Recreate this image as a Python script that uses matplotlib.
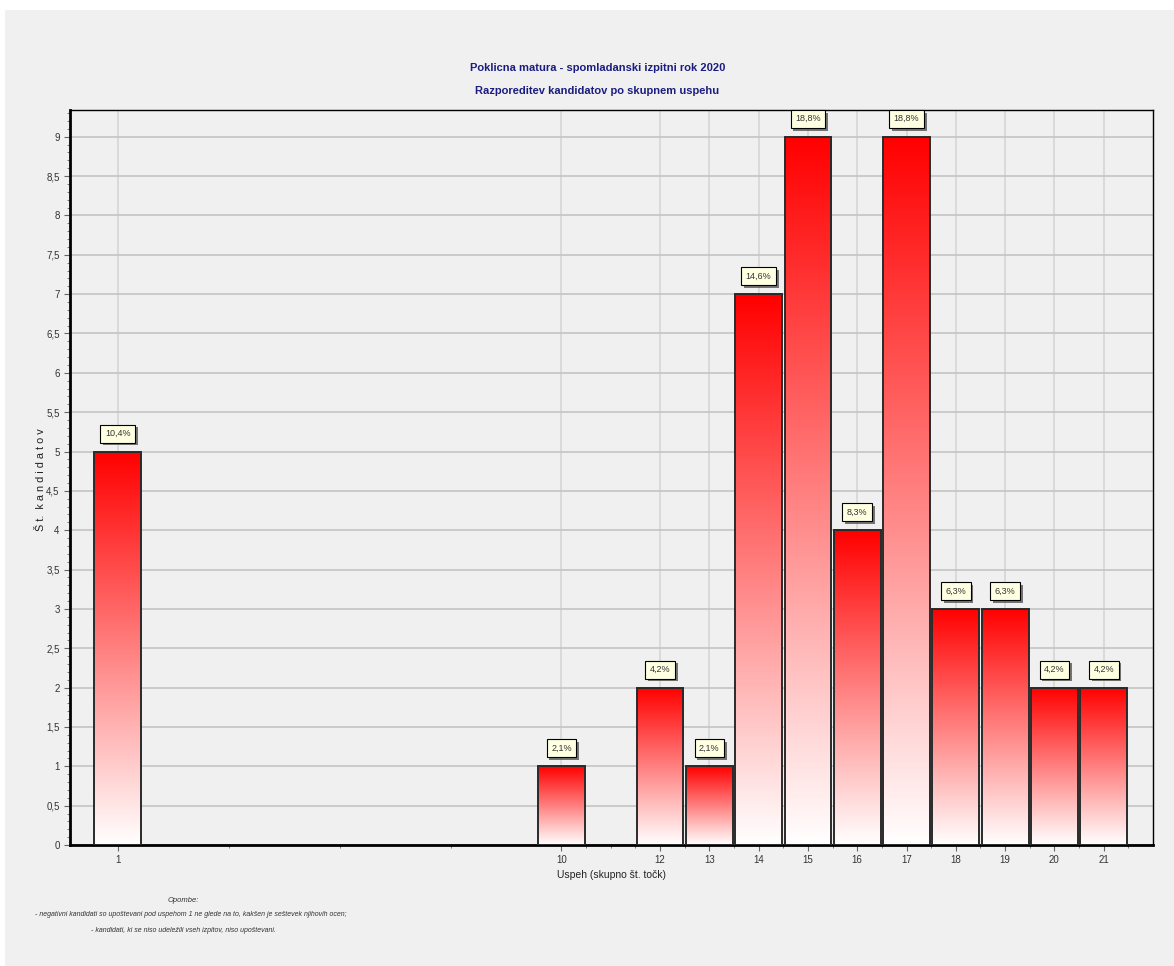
import numpy as np
import matplotlib
matplotlib.use('Agg')
import matplotlib.pyplot as plt
import matplotlib.patheffects as pe
from matplotlib.colors import LinearSegmentedColormap
from matplotlib.patches import Rectangle

# Podatki
uspeh = [1, 10, 12, 13, 14, 15, 16, 17, 18, 19, 20, 21]
kandidati = [5, 1, 2, 1, 7, 9, 4, 9, 3, 3, 2, 2]
odstotki = ['10,4%', '2,1%', '4,2%', '2,1%', '14,6%', '18,8%', '8,3%',
            '18,8%', '6,3%', '6,3%', '4,2%', '4,2%']
x_oznake = [1, 10, 12, 13, 14, 15, 16, 17, 18, 19, 20, 21]
y_oznake = [0, 0.5, 1, 1.5, 2, 2.5, 3, 3.5, 4, 4.5, 5, 5.5, 6, 6.5, 7, 7.5, 8, 8.5, 9]

pisava = ['Liberation Sans Narrow', 'Liberation Sans', 'DejaVu Sans']
plt.rcParams['font.family'] = pisava

fig = plt.figure(figsize=(11.74, 9.66), dpi=100, facecolor='white')
# sivo ozadje okna
fig.patches.append(Rectangle((5 / 1174, 0), 1 - 5 / 1174, 1 - 10 / 966,
                             transform=fig.transFigure, facecolor='#f0f0f0',
                             edgecolor='none', zorder=-10))
ax = fig.add_axes([70 / 1174, 1 - 845 / 966, (1153 - 70) / 1174, (845 - 110) / 966])
ax.set_facecolor('#f0f0f0')

cmap = LinearSegmentedColormap.from_list('rdeca', ['#ffffff', '#ff0000'])
gradient = np.linspace(0, 1, 256).reshape(-1, 1)
sirina = 0.95

for x, y, p in zip(uspeh, kandidati, odstotki):
    rect = Rectangle((x - sirina / 2, 0), sirina, y, facecolor='none',
                     edgecolor='#2a2a2a', linewidth=1.4, zorder=4)
    ax.add_patch(rect)
    im = ax.imshow(gradient, cmap=cmap, origin='lower', aspect='auto',
                   extent=[x - sirina / 2, x + sirina / 2, 0, y], zorder=3)
    im.set_clip_path(rect)
    t = ax.annotate(p, (x, y), xytext=(0, 18), textcoords='offset pixels',
                    ha='center', va='center', fontsize=6.5, color='#333333',
                    bbox=dict(boxstyle='square,pad=0.5', facecolor='#ffffe1',
                              edgecolor='black', linewidth=0.8), zorder=6)
    t.get_bbox_patch().set_path_effects([
        pe.SimplePatchShadow(offset=(2, -2), shadow_rgbFace='#555555', alpha=0.8),
        pe.Normal()])

ax.set_xlim(0.03, 22)
ax.set_ylim(0, 9.34)
ax.set_xticks(x_oznake)
ax.set_xticklabels([str(v) for v in x_oznake])
ax.set_xticks([3.25, 5.5, 7.75] + list(np.arange(10.5, 22, 0.5)), minor=True)
ax.set_yticks(y_oznake)
ax.set_yticklabels([('%g' % v).replace('.', ',') for v in y_oznake])
ax.set_yticks(np.arange(0, 9.35, 0.1), minor=True)
ax.tick_params(axis='both', which='major', labelsize=7, labelcolor='#333333',
               color='#666666', length=4, width=0.8)
ax.tick_params(axis='both', which='minor', color='#666666', length=2, width=0.6)
ax.tick_params(axis='x', pad=3)

ax.yaxis.grid(True, color='#c4c4c4', linewidth=1.2, zorder=0)
ax.xaxis.grid(True, color='#d6d6d6', linewidth=1.2, zorder=0)
ax.set_axisbelow(True)
for s in ['left', 'bottom']:
    ax.spines[s].set_linewidth(2)
for s in ['top', 'right']:
    ax.spines[s].set_linewidth(1)

ax.set_xlabel('Uspeh (skupno št. točk)', fontsize=7.5, color='#222222', labelpad=4)
ax.set_ylabel('Š t.  k a n d i d a t o v', fontsize=7.8, color='#222222')
ax.yaxis.set_label_coords(-24 / 1083, 0.497)

fig.text(0.5087, 1 - 68 / 966, 'Poklicna matura - spomladanski izpitni rok 2020',
         ha='center', va='center', fontsize=8, color='#1c1c80', fontweight='bold')
fig.text(0.5087, 1 - 91 / 966, 'Razporeditev kandidatov po skupnem uspehu',
         ha='center', va='center', fontsize=8, color='#1c1c80', fontweight='bold')

fig.text(183 / 1174, 1 - 900 / 966, 'Opombe:', ha='center', va='center',
         fontsize=5.5, style='italic', color='#333333')
fig.text(35 / 1174, 1 - 915 / 966,
         '- negativni kandidati so upoštevani pod uspehom 1 ne glede na to, kakšen je seštevek njihovih ocen;',
         ha='left', va='center', fontsize=5.0, style='italic', color='#333333')
fig.text(183 / 1174, 1 - 930 / 966,
         '- kandidati, ki se niso udeležili vseh izpitov, niso upoštevani.',
         ha='center', va='center', fontsize=5.0, style='italic', color='#333333')

fig.savefig('out.png', dpi=100, facecolor=fig.get_facecolor())
